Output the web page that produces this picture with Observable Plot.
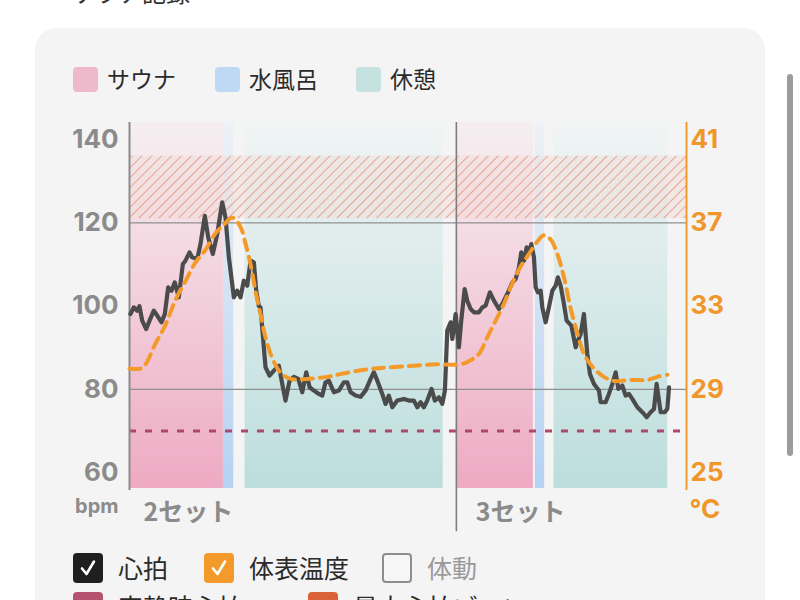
<!DOCTYPE html>
<html><head><meta charset="utf-8">
<script src="https://cdn.jsdelivr.net/npm/d3@7"></script>
<script src="https://cdn.jsdelivr.net/npm/@observablehq/plot@0.6"></script>
<style>
html,body{margin:0;padding:0;background:#fff;width:800px;height:600px;overflow:hidden;font-family:"Noto Sans CJK JP","Noto Sans",sans-serif;}
.card{position:absolute;left:35px;top:28px;width:730px;height:640px;background:#f4f4f4;border-radius:22px;}
.sq{position:absolute;border-radius:4px;}
.lt{position:absolute;white-space:nowrap;line-height:1;color:#2b2b2b;}
#chart{position:absolute;left:0;top:0;}
.scroll{position:absolute;left:787px;top:74px;width:6px;height:382px;border-radius:3px;background:#9c9c9c;}
</style></head>
<body>
<div class="lt" style="left:70px;top:-20px;font-size:24px;color:#333;">サウナ記録</div>
<div class="card"></div>
<div class="scroll"></div>
<div id="legendTop"></div>
<div id="chart"></div>
<div id="legendBottom"></div>
<script>
// ---- data ----
const hrTime = [0.1,0.46,0.82,1.06,1.35,1.78,2.13,2.59,2.95,3.41,3.76,4.12,4.47,4.82,5.25,5.68,5.96,6.39,6.68,7.21,7.56,8.02,8.38,8.87,9.34,9.87,10.22,10.58,11.11,11.47,11.82,12.17,12.53,12.89,13.24,13.49,13.77,13.95,14.3,14.48,14.91,15.37,15.9,16.26,16.61,17.04,17.5,17.97,18.39,18.82,19.17,19.63,20.16,20.52,20.87,21.22,21.76,22.29,22.82,23.18,23.54,24.07,24.6,25.13,25.67,26.02,26.38,26.91,27.26,27.61,27.98,28.51,29.21,29.74,30.28,30.64,30.99,31.34,31.7,32.16,32.51,32.94,33.3,33.58,33.83,34.19,34.37,34.72,35.07,35.32,35.68,35.96,36.32,36.67,37.2,37.56,37.91,38.37,38.8,39.33,39.69,40.22,40.76,41.11,41.46,41.71,41.99,42.28,42.52,42.78,43.06,43.24,43.48,43.77,43.95,44.3,44.65,45.02,45.37,45.61,45.9,46.19,46.54,47.04,47.5,47.74,48.03,48.38,48.74,49.02,49.45,49.98,50.16,50.69,51.04,51.41,51.76,52.04,52.47,52.82,53.17,53.53,54.07,54.6,55.06,55.48,55.84,56.12,56.55,56.98,57.26,57.44];
const hrBpm = [98.1,99.7,98.9,100,96.5,94.5,96.5,98.9,97.7,96.1,98.1,104.5,103.7,105.7,102.1,110.1,110.9,112.9,111.7,111.3,114.9,121.7,116.5,112.5,117.3,124.9,121.3,111.7,102.1,103.7,102.1,106.1,104.9,110.9,110.5,103.7,100,99.7,90.1,85.3,83.3,84.5,85.7,81.3,77.3,82.1,83.0,82.5,79.3,84.1,80.5,79.7,78.9,78.5,81.7,82.1,79.3,79.7,81.7,81.7,79.3,78.5,78.2,79.7,82.5,84.1,82.1,78.9,76.5,78.5,75.7,77.3,77.7,77.3,77.3,75.7,76.9,75.7,77.3,80.1,77.3,78.1,76.5,79.7,94.1,96.1,92.1,98.1,90.1,96.5,104.1,101.3,99.3,98.5,98.5,99.7,100.1,103.3,101.3,99.3,100.5,102.9,105.7,106.5,109.3,112.9,110.9,114.1,112.9,114.9,111.7,104.5,103.3,103.7,99.7,96.1,99.7,103.7,104.9,106.9,104.9,101.3,96.5,95.3,90.1,91.7,93.3,98.1,88.5,83.7,81.3,79.7,76.9,76.9,78.9,81.3,84.1,80.1,80.9,78.5,78.9,77.7,75.7,74.5,73.3,74.5,75.3,81.3,74.5,74.5,75.3,80.5];
const tempTime = [0,1.17,1.7,2.77,3.83,4.9,5.96,7.03,8.09,9.16,10.04,10.94,11.82,12.35,12.89,13.42,13.95,14.48,15.2,16.08,17.15,18.92,21.05,23.18,26.02,29.21,32.77,35.25,36.32,37.2,38.09,38.98,39.86,40.76,41.64,42.52,43.42,44.12,44.84,45.55,46.25,46.96,47.68,48.38,49.45,50.51,51.58,53.35,55.13,56.2,57.26];
const tempC = [30.0,30.0,30.2,31.2,32.1,33.3,34.2,35.1,35.7,36.5,36.9,37.25,36.8,36.0,35.0,33.7,32.6,31.5,30.5,29.8,29.5,29.5,29.6,29.8,30.0,30.1,30.2,30.2,30.4,30.7,31.5,32.3,33.1,34.1,34.9,35.5,36.1,36.4,36.2,35.5,34.4,32.9,31.7,30.7,30.0,29.6,29.4,29.45,29.45,29.6,29.7];
const bandType = ["サウナ","水風呂","休憩","サウナ","水風呂","休憩"];
const bandStart = [0,10.0,12.3,34.8,43.2,45.2];
const bandEnd = [10.0,11.1,33.4,43.0,44.2,57.3];
const bpmTicks = [60,80,100,120,140];
const tempTicks = [25,29,33,37,41];
const gridBpm = [80,120];
const restingBpm = 70;
const zoneLow = 121, zoneHigh = 136;
const setLabels = ["2セット","3セット"];
const setLabelTime = [1.5,36.85];
const setBoundary = 34.8;
const xMax = 59.3;
const legendNames = ["サウナ","水風呂","休憩"];
const legendColors = ["#efb9cc","#bfd8f3","#c5e2e0"];
const toggleNames = ["心拍","体表温度","体動"];
const toggleOn = [true,true,false];
const toggleColors = ["#1f1f1f","#f39a2a","#8e8e8e"];
const row2Names = ["安静時心拍","最大心拍ゾーン"];
const row2Colors = ["#b4516f","#d9623a"];

// ---- scales helpers ----
const yBottom = 55.7, yTop = 144.1, bandBottom = 56.2;
const tempToBpm = c => 60 + (c - 25) * 5;

const bands = bandType.map((t,i)=>({type:t,start:bandStart[i],end:bandEnd[i],y1:bandBottom,y2:yTop}));
const hr = hrTime.map((t,i)=>({t, v:hrBpm[i]}));
const temp = tempTime.map((t,i)=>({t, v:tempToBpm(tempC[i])}));
const zone = [{x1:0,x2:xMax,y1:zoneLow,y2:zoneHigh}];
const gradId = {"サウナ":"url(#gSauna)","水風呂":"url(#gWater)","休憩":"url(#gRest)"};

const tickFont = "Inter, 'Noto Sans CJK JP', sans-serif";
const marks = [];
for (const k of Object.keys(gradId)) {
  marks.push(Plot.rect(bands.filter(d=>d.type===k),{x1:"start",x2:"end",y1:"y1",y2:"y2",fill:gradId[k]}));
}
marks.push(
  Plot.rect(zone,{x1:"x1",x2:"x2",y1:"y1",y2:"y2",fill:"#efdcd7",fillOpacity:0.45}),
  Plot.rect(zone,{x1:"x1",x2:"x2",y1:"y1",y2:"y2",fill:"url(#hatch)"}),
  Plot.ruleY(gridBpm,{x1:0,x2:xMax,stroke:"#8f8f8f",strokeWidth:1.4}),
  Plot.ruleY([restingBpm],{x1:0,x2:xMax-0.3,stroke:"#b0476b",strokeWidth:3,strokeDasharray:"7,9"}),
  Plot.ruleX([setBoundary],{y1:yTop,y2:45.8,stroke:"#7d7d7d",strokeWidth:1.6}),
  Plot.ruleX([0],{y1:yTop,y2:yBottom,stroke:"#8a8a8a",strokeWidth:2}),
  Plot.ruleX([xMax],{y1:yTop,y2:yBottom,stroke:"#f39a2a",strokeWidth:2}),
  Plot.line(hr,{x:"t",y:"v",stroke:"#4b4b4b",strokeWidth:4.2,strokeLinejoin:"round",strokeLinecap:"round"}),
  Plot.line(temp,{x:"t",y:"v",stroke:"#f39a2a",strokeWidth:4,strokeDasharray:"11,7",curve:"catmull-rom"}),
  Plot.text(bpmTicks,{x:0,y:d=>d,text:d=>String(d),dx:-11,textAnchor:"end",fill:"#8b8b8b",fontSize:26,fontWeight:700,fontFamily:tickFont}),
  Plot.text(tempTicks,{x:xMax,y:d=>tempToBpm(d),text:d=>String(d),dx:4,textAnchor:"start",fill:"#f0962a",fontSize:26,fontWeight:700,fontFamily:tickFont}),
  Plot.text(["bpm"],{x:0,y:51.8,text:d=>d,dx:-11,textAnchor:"end",fill:"#8b8b8b",fontSize:20,fontWeight:700,fontFamily:tickFont}),
  Plot.text(["°C"],{x:xMax,y:51.1,text:d=>d,dx:3,textAnchor:"start",fill:"#f0962a",fontSize:26,fontWeight:700,fontFamily:tickFont}),
  Plot.text(setLabels.map((s,i)=>({s,t:setLabelTime[i]})),{x:"t",y:50.3,text:"s",textAnchor:"start",fill:"#8b8b8b",fontSize:25,fontWeight:700,fontFamily:"'Noto Sans CJK JP', sans-serif"})
);

const svg = Plot.plot({
  width:800, height:560,
  marginLeft:129, marginRight:114, marginTop:122, marginBottom:70,
  x:{domain:[0,xMax], axis:null},
  y:{domain:[yBottom,yTop], axis:null},
  style:{background:"transparent", overflow:"visible"},
  marks
});
d3.select(svg).insert("defs",":first-child").html(`
<linearGradient id="gSauna" x1="0" y1="0" x2="0" y2="1">
 <stop offset="0" stop-color="#f5eef1"/>
 <stop offset="0.12" stop-color="#f5e8ed"/>
 <stop offset="1" stop-color="#eeaac2"/>
</linearGradient>
<linearGradient id="gWater" x1="0" y1="0" x2="0" y2="1">
 <stop offset="0" stop-color="#eef1f6"/>
 <stop offset="1" stop-color="#b5d2f2"/>
</linearGradient>
<linearGradient id="gRest" x1="0" y1="0" x2="0" y2="1">
 <stop offset="0" stop-color="#f1f4f4"/>
 <stop offset="1" stop-color="#bcdedd"/>
</linearGradient>
<pattern id="hatch" patternUnits="userSpaceOnUse" width="7" height="7" patternTransform="rotate(45)">
 <line x1="0" y1="0" x2="0" y2="7" stroke="#e6866a" stroke-width="1.4"/>
</pattern>`);
document.getElementById("chart").appendChild(svg);

// ---- legends ----
const lt = document.getElementById("legendTop");
const topX = [73,215,356];
legendNames.forEach((n,i)=>{
  lt.insertAdjacentHTML("beforeend",
    `<div class="sq" style="left:${topX[i]}px;top:67px;width:25px;height:25px;background:${legendColors[i]}"></div>
     <div class="lt" style="left:${topX[i]+34}px;top:67px;font-size:23px;">${n}</div>`);
});
const lb = document.getElementById("legendBottom");
const botX = [73,204,382];
const check = `<svg width="30" height="30" viewBox="0 0 30 30" style="position:absolute;left:0;top:0"><path d="M9 15.5 L13.5 21 L21 8.5" fill="none" stroke="#fff" stroke-width="2.6" stroke-linecap="round" stroke-linejoin="round"/></svg>`;
toggleNames.forEach((n,i)=>{
  const on = toggleOn[i];
  const box = on
    ? `<div class="sq" style="left:${botX[i]}px;top:553px;width:30px;height:30px;background:${toggleColors[i]}">${check}</div>`
    : `<div class="sq" style="left:${botX[i]}px;top:553px;width:26px;height:26px;border:2px solid ${toggleColors[i]};background:#f6f6f6"></div>`;
  lb.insertAdjacentHTML("beforeend", box +
    `<div class="lt" style="left:${botX[i]+45}px;top:555px;font-size:25px;color:${on?'#2b2b2b':'#9a9a9a'}">${n}</div>`);
});
const row2X = [73,308];
row2Names.forEach((n,i)=>{
  lb.insertAdjacentHTML("beforeend",
    `<div class="sq" style="left:${row2X[i]}px;top:592px;width:30px;height:30px;background:${row2Colors[i]}"></div>
     <div class="lt" style="left:${row2X[i]+45}px;top:594px;font-size:25px;color:#2b2b2b">${n}</div>`);
});
</script>
</body></html>
